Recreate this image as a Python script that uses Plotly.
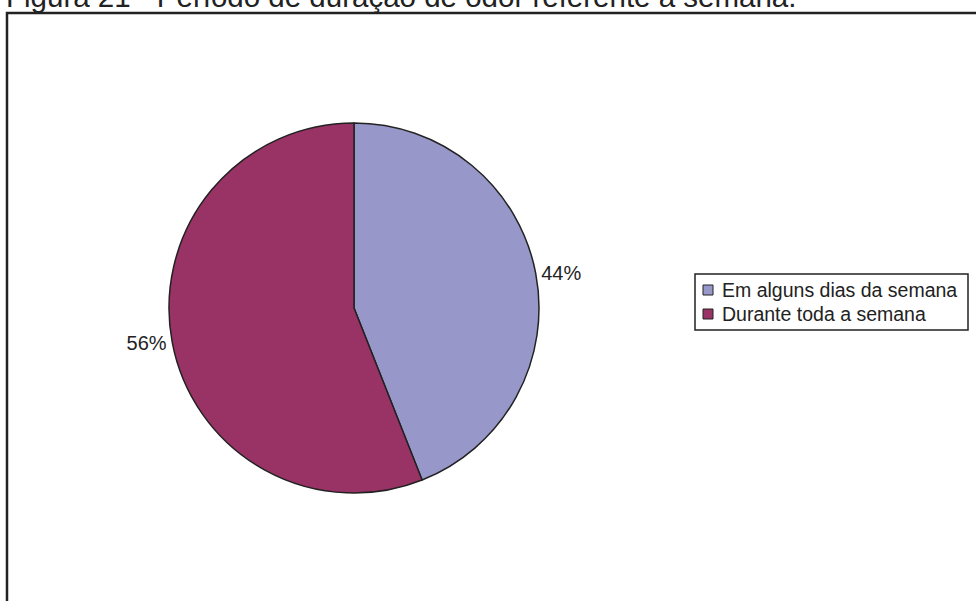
import plotly.graph_objects as go

# Survey answers: how long during the week the odour lasts
labels = ["Em alguns dias da semana", "Durante toda a semana"]
values = [44, 56]
colors = ["#9797CA", "#993366"]
title_text = "Figura 21 - Período de duração de odor referente à semana."

W, H = 976, 601
FONT = "Liberation Sans, Arial, sans-serif"
INK = "#222222"


def fx(px):
    return px / W


def fy(py):
    return 1 - py / H


# pie geometry in pixels
cx, cy, r = 354, 308, 185

fig = go.Figure(
    go.Pie(
        labels=labels,
        values=values,
        marker=dict(colors=colors, line=dict(color=INK, width=1.5)),
        sort=False,
        direction="clockwise",
        rotation=0,
        textinfo="percent",
        texttemplate="%{percent:.0%}",
        textposition="outside",
        textfont=dict(family=FONT, size=20, color=INK),
        showlegend=False,
        hoverinfo="label+percent",
        domain=dict(x=[fx(cx - r), fx(cx + r)], y=[fy(cy + r), fy(cy - r)]),
    )
)

shapes = [
    # outer frame around the chart
    dict(type="rect", xref="paper", yref="paper",
         x0=fx(7), x1=fx(W + 10), y0=fy(H + 10), y1=fy(13),
         line=dict(color=INK, width=2.5), fillcolor="rgba(0,0,0,0)"),
]
annotations = [
    dict(text=title_text, xref="paper", yref="paper", x=fx(4), y=fy(15),
         xanchor="left", yanchor="bottom", showarrow=False,
         font=dict(family=FONT, size=29.5, color=INK)),
]

# legend box with colour keys
lx0, lx1, ly0, row_h = 695, 968, 274, 24
ly1 = ly0 + row_h * len(labels) + 8
shapes.append(dict(type="rect", xref="paper", yref="paper",
                   x0=fx(lx0), x1=fx(lx1), y0=fy(ly1), y1=fy(ly0),
                   line=dict(color=INK, width=1.5), fillcolor="white"))
for i, (lab, col) in enumerate(zip(labels, colors)):
    yc = ly0 + 4 + row_h * (i + 0.5)
    shapes.append(dict(type="rect", xref="paper", yref="paper",
                       x0=fx(lx0 + 8), x1=fx(lx0 + 18),
                       y0=fy(yc + 5), y1=fy(yc - 5),
                       line=dict(color=INK, width=1), fillcolor=col))
    annotations.append(dict(text=lab, xref="paper", yref="paper",
                            x=fx(lx0 + 25), y=fy(yc), xanchor="left",
                            yanchor="middle", showarrow=False,
                            font=dict(family=FONT, size=19.5, color=INK)))

fig.update_layout(
    width=W, height=H,
    margin=dict(l=0, r=0, t=0, b=0),
    paper_bgcolor="white",
    plot_bgcolor="white",
    shapes=shapes,
    annotations=annotations,
)

fig.write_html("out.html")
